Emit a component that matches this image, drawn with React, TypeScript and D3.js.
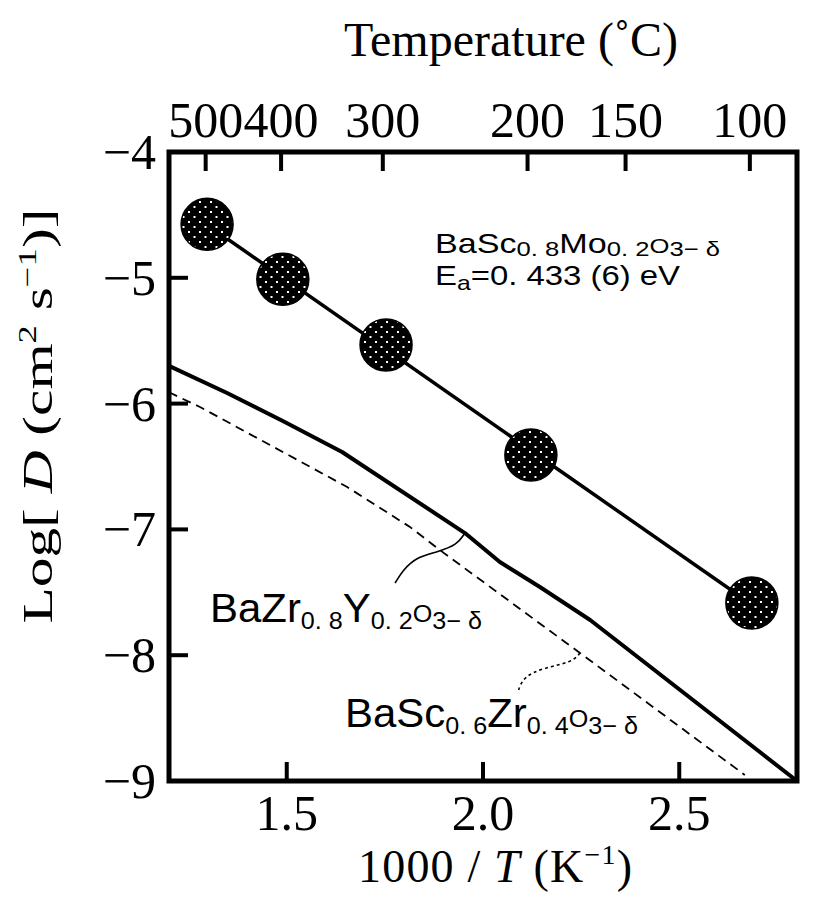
import React from 'react';
import * as d3 from 'd3';

// ---- data ----
const moX = [1.297, 1.49, 1.753, 2.122, 2.685];
const moY = [-4.575, -5.012, -5.534, -6.409, -7.585];

const bzyX = [1.2, 1.348, 1.49, 1.641, 1.954, 2.043, 2.145, 2.273, 2.8];
const bzyY = [-5.7, -5.916, -6.138, -6.385, -7.029, -7.259, -7.458, -7.72, -9.0];

const bszX = [1.2, 1.279, 1.654, 1.814, 1.89, 2.247, 2.667];
const bszY = [-5.91, -6.027, -6.663, -6.981, -7.164, -7.982, -8.952];

const bottomTicks = [1.5, 2.0, 2.5];
const leftTicks = [-4, -5, -6, -7, -8, -9];
const topTicksC = [500, 400, 300, 200, 150, 100];

// leader curves (data units)
const bzyLeadX = [1.954, 1.934, 1.883, 1.832, 1.796, 1.776];
const bzyLeadY = [-7.029, -7.124, -7.18, -7.219, -7.323, -7.426];
const bszLeadX = [2.247, 2.229, 2.153, 2.102, 2.089];
const bszLeadY = [-7.982, -8.054, -8.102, -8.173, -8.292];

const W = 822;
const H = 906;
const L = 169, R = 797, T = 152, B = 781;

const x = d3.scaleLinear().domain([1.2, 2.8]).range([L, R]);
const y = d3.scaleLinear().domain([-9, -4]).range([B, T]);

const serif = "'Liberation Serif', 'Times New Roman', serif";
const sans = "'Liberation Sans', Arial, sans-serif";

type Part = { t: string; k: 'n' | 's' | 'o' };

function Formula({ px, py, parts, F, f, d, len }: { px: number; py: number; parts: Part[]; F: number; f: number; d: number; len: number }) {
  let cur = 0;
  return (
    <text x={px} y={py} fontFamily={sans} fontSize={F} textLength={len} lengthAdjust="spacingAndGlyphs" fill="#000">
      {parts.map((p, i) => {
        const off = p.k === 's' ? d : 0;
        const dy = off - cur;
        cur = off;
        return (
          <tspan key={i} dy={dy} fontSize={p.k === 'n' ? F : f}>
            {p.t}
          </tspan>
        );
      })}
    </text>
  );
}

const topParts: Part[] = [
  { t: 'BaSc', k: 'n' }, { t: '0. 8', k: 's' }, { t: 'Mo', k: 'n' }, { t: '0. 2', k: 's' }, { t: 'O', k: 'o' }, { t: '3− δ', k: 's' },
];
const eaParts: Part[] = [{ t: 'E', k: 'n' }, { t: 'a', k: 's' }, { t: '=0. 433 (6) eV', k: 'n' }];
const bzyParts: Part[] = [
  { t: 'BaZr', k: 'n' }, { t: '0. 8', k: 's' }, { t: 'Y', k: 'n' }, { t: '0. 2', k: 's' }, { t: 'O', k: 'o' }, { t: '3− δ', k: 's' },
];
const bszParts: Part[] = [
  { t: 'BaSc', k: 'n' }, { t: '0. 6', k: 's' }, { t: 'Zr', k: 'n' }, { t: '0. 4', k: 's' }, { t: 'O', k: 'o' }, { t: '3− δ', k: 's' },
];

export default function App() {
  const lineGen = d3.line<[number, number]>().x((d) => x(d[0])).y((d) => y(d[1]));
  const curveGen = d3.line<[number, number]>().x((d) => x(d[0])).y((d) => y(d[1])).curve(d3.curveBasis);

  const bzy = bzyX.map((v, i) => [v, bzyY[i]] as [number, number]);
  const bsz = bszX.map((v, i) => [v, bszY[i]] as [number, number]);
  const bzyLead = bzyLeadX.map((v, i) => [v, bzyLeadY[i]] as [number, number]);
  const bszLead = bszLeadX.map((v, i) => [v, bszLeadY[i]] as [number, number]);

  // least-squares Arrhenius fit through the BaSc0.8Mo0.2 points
  const mx = d3.mean(moX)!;
  const my = d3.mean(moY)!;
  const slope = d3.sum(moX.map((v, i) => (v - mx) * (moY[i] - my))) / d3.sum(moX.map((v) => (v - mx) ** 2));
  const fit: [number, number][] = [moX[0], moX[moX.length - 1]].map((v) => [v, my + slope * (v - mx)]);

  const tickLen = 19;
  const tickFont = 50;

  return (
    <svg width={W} height={H} style={{ position: 'absolute', left: 0, top: 0, background: '#fff' }}>
      <defs>
        <pattern id="dots" patternUnits="userSpaceOnUse" width={11} height={10}>
          <rect width={11} height={10} fill="#000" />
          <rect x={1} y={1} width={2} height={2} fill="#fff" />
          <rect x={6.5} y={6} width={2} height={2} fill="#fff" />
        </pattern>
      </defs>
      <rect width={W} height={H} fill="#fff" />

      {/* data lines */}
      <path d={lineGen(bsz)!} fill="none" stroke="#000" strokeWidth={1.8} strokeDasharray="9,6" />
      <path d={lineGen(bzy)!} fill="none" stroke="#000" strokeWidth={4} strokeLinejoin="round" />
      <path d={lineGen(fit)!} fill="none" stroke="#000" strokeWidth={3.5} />
      {moX.map((v, i) => (
        <circle key={i} cx={x(v)} cy={y(moY[i])} r={26} fill="url(#dots)" stroke="#000" strokeWidth={1.5} />
      ))}

      {/* leaders */}
      <path d={curveGen(bzyLead)!} fill="none" stroke="#000" strokeWidth={1.6} />
      <path d={curveGen(bszLead)!} fill="none" stroke="#000" strokeWidth={1.6} strokeDasharray="3,3" />

      {/* frame */}
      <rect x={L} y={T} width={R - L} height={B - T} fill="none" stroke="#000" strokeWidth={5} />

      {/* bottom ticks */}
      {bottomTicks.map((t) => (
        <g key={t}>
          <line x1={x(t)} x2={x(t)} y1={B} y2={B - tickLen} stroke="#000" strokeWidth={4} />
          <text x={x(t)} y={830} textAnchor="middle" fontFamily={serif} fontSize={tickFont}>
            {t.toFixed(1)}
          </text>
        </g>
      ))}
      {/* left ticks */}
      {leftTicks.map((t) => (
        <g key={t}>
          <line x1={L} x2={L + tickLen} y1={y(t)} y2={y(t)} stroke="#000" strokeWidth={4} />
          <text x={156} y={y(t) + 17} textAnchor="end" fontFamily={serif} fontSize={tickFont}>
            {'\u2212' + Math.abs(t)}
          </text>
        </g>
      ))}
      {/* top ticks (temperature) */}
      {topTicksC.map((c) => {
        const xv = x(1000 / (c + 273.15));
        return (
          <g key={c}>
            <line x1={xv} x2={xv} y1={T} y2={T + tickLen} stroke="#000" strokeWidth={4} />
            <text x={xv} y={137} textAnchor="middle" fontFamily={serif} fontSize={tickFont}>
              {c}
            </text>
          </g>
        );
      })}

      {/* axis titles */}
      <text x={511} y={56} textAnchor="middle" fontFamily={serif} fontSize={48}>
        Temperature (˚C)
      </text>
      <text x={495} y={882} textAnchor="middle" fontFamily={serif} fontSize={46} textLength={274} lengthAdjust="spacing">
        1000 / <tspan fontStyle="italic">T</tspan> (K<tspan dy={-18} fontSize={28}>−1</tspan><tspan dy={18}>)</tspan>
      </text>
      <text transform="translate(52,416) rotate(-90)" textAnchor="middle" fontFamily={serif} fontSize={42} textLength={415} lengthAdjust="spacingAndGlyphs">
        Log[ <tspan fontStyle="italic">D</tspan> (cm<tspan dy={-16} fontSize={26}>2</tspan>
        <tspan dy={16}> s</tspan>
        <tspan dy={-16} fontSize={26}>−1</tspan>
        <tspan dy={16}>)]</tspan>
      </text>

      {/* annotations */}
      <Formula px={435} py={253} parts={topParts} F={28} f={21} d={3} len={285} />
      <Formula px={435} py={285} parts={eaParts} F={28} f={21} d={5} len={245} />
      <Formula px={210} py={622} parts={bzyParts} F={40} f={24} d={6.5} len={272} />
      <Formula px={345} py={727} parts={bszParts} F={40} f={24} d={6.5} len={293} />
    </svg>
  );
}
